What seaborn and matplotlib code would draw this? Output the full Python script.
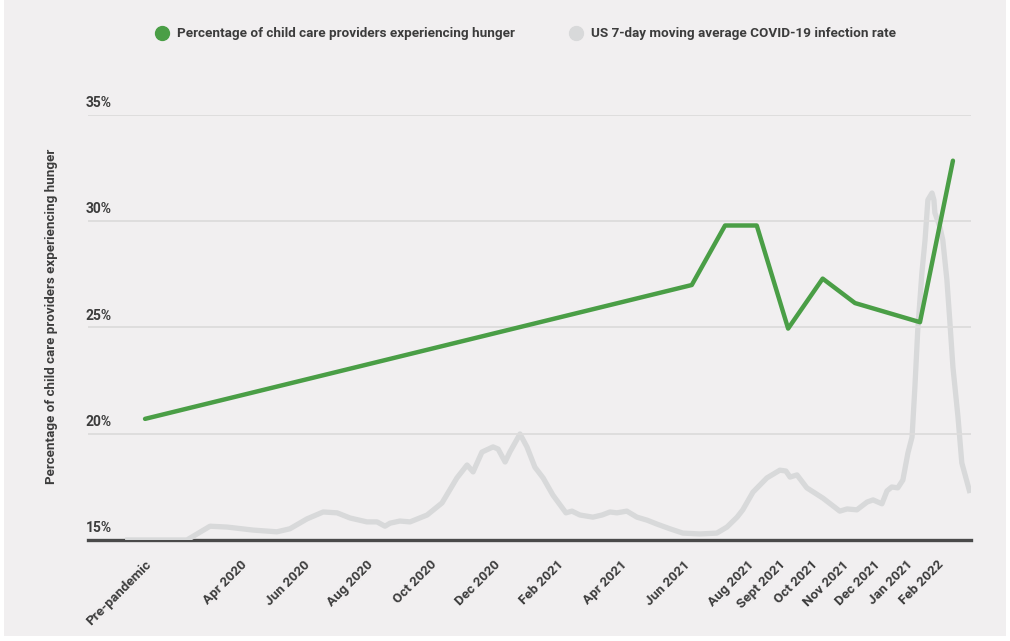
import matplotlib
matplotlib.use("Agg")
import matplotlib.pyplot as plt
from matplotlib.lines import Line2D
from matplotlib.patches import Rectangle
import pandas as pd
import seaborn as sns

# x positions are months since Jan 2020 (Pre-pandemic = 0)
tick_months = [0, 3, 5, 7, 9, 11, 13, 15, 17, 19, 20, 21, 22, 23, 24, 25]
tick_labels = ["Pre-pandemic", "Apr 2020", "Jun 2020", "Aug 2020", "Oct 2020",
               "Dec 2020", "Feb 2021", "Apr 2021", "Jun 2021", "Aug 2021",
               "Sept 2021", "Oct 2021", "Nov 2021", "Dec 2021", "Jan 2021", "Feb 2022"]

# survey results: percentage of providers experiencing hunger
survey_month = [0, 17.25, 18.30, 19.30, 20.29, 21.38, 22.40, 24.45, 25.49]
hunger_pct = [20.7, 27.0, 29.8, 29.8, 24.95, 27.3, 26.15, 25.25, 32.85]

# US 7-day moving average of new cases (thousands)
covid_month = [-0.63, 1.32, 2.05, 2.59, 3.41, 4.16, 4.57, 5.11, 5.62, 6.06, 6.47,
               7.00, 7.32, 7.57, 7.73, 8.04, 8.36, 8.90, 9.37, 9.84, 10.16, 10.35,
               10.63, 10.98, 11.14, 11.36, 11.51, 11.67, 11.83, 12.05, 12.30, 12.56,
               12.87, 13.28, 13.47, 13.72, 14.13, 14.42, 14.67, 14.89, 15.20, 15.52,
               15.84, 16.15, 16.56, 16.97, 17.51, 18.04, 18.36, 18.68, 18.86, 19.18,
               19.62, 20.03, 20.22, 20.35, 20.57, 20.88, 21.39, 21.92, 22.15, 22.46,
               22.78, 22.97, 23.25, 23.41, 23.56, 23.75, 23.91, 24.07, 24.20, 24.29,
               24.38, 24.51, 24.61, 24.70, 24.83, 24.89, 24.92, 25.08, 25.17, 25.30,
               25.39, 25.49, 25.65, 25.77, 26.03]
covid_cases = [0, 0, 32, 30, 23, 19, 26, 49, 65, 63, 51,
               42, 42, 32, 39, 44, 42, 58, 86, 144, 174, 158,
               204, 216, 211, 181, 204, 225, 246, 216, 169, 144,
               104, 63, 67, 58, 53, 58, 65, 63, 67, 53,
               46, 37, 26, 16, 14, 16, 30, 53, 70, 111,
               144, 162, 160, 146, 151, 121, 97, 67, 72, 70,
               88, 93, 84, 114, 123, 121, 139, 202, 239, 355,
               487, 619, 696, 789, 805, 789, 759, 726, 696, 603,
               510, 401, 285, 179, 109]

survey = pd.DataFrame({"month": survey_month, "pct": hunger_pct})
covid = pd.DataFrame({"month": covid_month, "cases": covid_cases})

bg = "#f1eff0"
green = "#4a9e46"
light = "#d8d9da"
text_col = "#3c3c3c"

sns.set_theme(style="white")
plt.rcParams["font.family"] = ["Roboto", "DejaVu Sans"]
plt.rcParams["font.weight"] = "bold"

fig = plt.figure(figsize=(10.1, 6.41), dpi=100, facecolor="white")
fig.patches.append(Rectangle((4, 5), 1002, 640, transform=None, facecolor=bg,
                             edgecolor="none", zorder=-10))

W, H = 1010, 641
left, right, top, bottom = 88, 971, 115, 540
ax = fig.add_axes([left / W, 1 - bottom / H, (right - left) / W, (bottom - top) / H])
ax2 = ax.twinx()

# covid line sits underneath the percentage axis
ax2.set_zorder(ax.get_zorder() - 1)
ax.patch.set_visible(False)
ax2.patch.set_facecolor(bg)

sns.lineplot(data=covid, x="month", y="cases", ax=ax2, color=light, linewidth=3.8,
             zorder=3, solid_capstyle="butt")
ax2.set_ylim(0, 986)
ax2.set_yticks([])
ax2.set_ylabel("")
for s in ["top", "left", "right"]:
    ax2.spines[s].set_visible(False)
ax2.spines["bottom"].set_color("#4a4a4a")
ax2.spines["bottom"].set_linewidth(2.4)

# gridlines
for v in [20, 25, 30, 35]:
    ax.axhline(v, color="#dddcdc", linewidth=1.3, zorder=1)

sns.lineplot(data=survey, x="month", y="pct", ax=ax, color=green, linewidth=3.2,
             zorder=5)
ax.set_ylim(15, 35)
ax.set_xlim(-1.8, 26.06)
ax.set_yticks([])
for s in ax.spines.values():
    s.set_visible(False)

for v in [15, 20, 25, 30, 35]:
    ax.annotate(f"{v}%", xy=(0, v), xycoords=ax.get_yaxis_transform(),
                xytext=(-1.5, 3.5), textcoords="offset points", ha="left", va="bottom",
                fontsize=10, color=text_col, fontweight="bold")

ax.set_xticks(tick_months)
ax.set_xticklabels(tick_labels, rotation=45, ha="right", rotation_mode="anchor",
                   fontsize=9.7, color=text_col, fontweight="bold")
ax.tick_params(axis="x", length=0, pad=13)
ax2.tick_params(axis="x", length=0, labelbottom=False)
ax.set_xlabel("")
ax.set_ylabel("Percentage of child care providers experiencing hunger", fontsize=9.6,
              color=text_col, fontweight="bold")
ax.yaxis.set_label_coords(-0.034, 0.525)

handles = [
    Line2D([], [], marker="o", linestyle="none", markersize=10, color=green),
    Line2D([], [], marker="o", linestyle="none", markersize=10, color=light),
]
fig.legend(handles, ["Percentage of child care providers experiencing hunger",
                     "US 7-day moving average COVID-19 infection rate"],
           loc="center", bbox_to_anchor=(525 / W, 1 - 34 / H), ncol=2, frameon=False,
           labelcolor=text_col, handlelength=1.2, handletextpad=0.5, columnspacing=4.0,
           prop={"weight": "bold", "size": 9.7})

fig.savefig("out.png", dpi=100, facecolor="white")
